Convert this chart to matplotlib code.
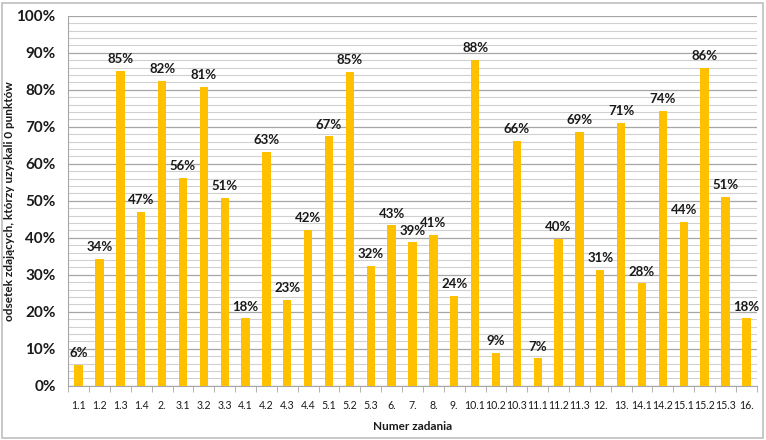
import numpy as np
import matplotlib.pyplot as plt
from matplotlib.patches import Rectangle
from matplotlib.ticker import MultipleLocator, FuncFormatter

zadania = ["1.1", "1.2", "1.3", "1.4", "2.", "3.1", "3.2", "3.3", "4.1", "4.2", "4.3",
           "4.4", "5.1", "5.2", "5.3", "6.", "7.", "8.", "9.", "10.1", "10.2", "10.3",
           "11.1", "11.2", "11.3", "12.", "13.", "14.1", "14.2", "15.1", "15.2", "15.3", "16."]
odsetek = [5.7, 34.3, 85.2, 47.1, 82.4, 56.3, 80.9, 50.8, 18.3, 63.2, 23.2,
           42.2, 67.4, 84.9, 32.4, 43.4, 38.8, 40.8, 24.3, 88.1, 9.0, 66.2,
           7.4, 39.7, 68.6, 31.4, 71.1, 27.7, 74.4, 44.4, 86.0, 51.1, 18.3]

plt.rcParams['font.family'] = ['Lato', 'DejaVu Sans']

fig = plt.figure(figsize=(7.66, 4.40), dpi=100)
ax = fig.add_axes([0.089, 0.123, 0.899, 0.841])

x = np.arange(len(zadania))
ax.bar(x, odsetek, width=0.4, color="#FFC000", zorder=3)

for xi, v in zip(x, odsetek):
    ax.annotate(f"{round(v):.0f}%", (xi, v), xytext=(0, 4), textcoords="offset points",
                ha="center", va="bottom", fontsize=9.5, fontweight="bold", color="#1a1a1a")

ax.set_xlim(-0.5, len(zadania) - 0.5)
ax.set_ylim(0, 100)
ax.yaxis.set_major_locator(MultipleLocator(10))
ax.yaxis.set_minor_locator(MultipleLocator(2))
ax.yaxis.set_major_formatter(FuncFormatter(lambda v, p: f"{v:.0f}%"))
ax.grid(axis="y", which="major", color="#a6a6a6", lw=0.9, zorder=0)
ax.grid(axis="y", which="minor", color="#d0d0d0", lw=0.8, zorder=0)

ax.set_xticks(x)
ax.set_xticklabels(zadania, fontsize=7.6, color="#1a1a1a")
ax.set_xticks(np.arange(len(zadania) + 1) - 0.5, minor=True)
ax.tick_params(axis="x", which="major", length=0, pad=10)
ax.tick_params(axis="x", which="minor", length=4, color="#a6a6a6")
ax.tick_params(axis="y", which="both", length=0, pad=9)
for lab in ax.get_yticklabels():
    lab.set_fontweight("bold")
    lab.set_fontsize(11)
    lab.set_color("#1a1a1a")

for s in ["top", "right"]:
    ax.spines[s].set_visible(False)
ax.spines["left"].set_color("#a6a6a6")
ax.spines["bottom"].set_color("#a6a6a6")

ax.set_xlabel("Numer zadania", fontsize=8.5, fontweight="bold", color="#1a1a1a")
ax.xaxis.set_label_coords(0.5, -0.095)
ax.set_ylabel("odsetek zdających, którzy uzyskali 0 punktów", fontsize=8.5,
              fontweight="bold", color="#1a1a1a")
ax.yaxis.set_label_coords(-0.077, 0.5)

fig.patches.append(Rectangle((0.002, 0.004), 0.994, 0.99, transform=fig.transFigure,
                             fill=False, edgecolor="#bfbfbf", lw=1.2))

fig.savefig("out.png", dpi=100, facecolor="white")
